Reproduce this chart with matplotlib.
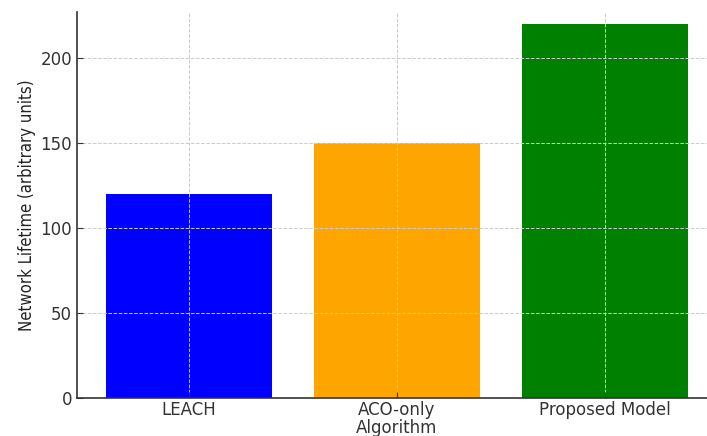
import matplotlib
matplotlib.use('Agg')
import matplotlib.pyplot as plt

# Data
methods = ['LEACH', 'ACO-only\nAlgorithm', 'Proposed Model']
lifetime = [120, 150, 220]
bar_colors = ['blue', 'orange', 'green']

fig = plt.figure(figsize=(7.07, 4.36), dpi=100)
ax = fig.add_axes([77 / 707, 38 / 436, 640 / 707, 386 / 436])

ax.bar(methods, lifetime, color=bar_colors, width=0.8)
ax.set_ylim(0, 227)
ax.set_ylabel('Network Lifetime (arbitrary units)', fontsize=12,
              fontstretch='condensed', color='#222222', labelpad=3)

ax.grid(True, linestyle='--', color='#cccccc', linewidth=0.7)
ax.tick_params(direction='in', labelsize=12, colors='#333333', length=4)
ax.tick_params(axis='x', pad=2)
for lbl in ax.get_xticklabels():
    lbl.set_linespacing(1.05)
ax.spines['top'].set_visible(False)
ax.spines['right'].set_visible(False)
for s in ('left', 'bottom'):
    ax.spines[s].set_color('#333333')
    ax.spines[s].set_linewidth(1.2)

fig.savefig('out.png', dpi=100)
